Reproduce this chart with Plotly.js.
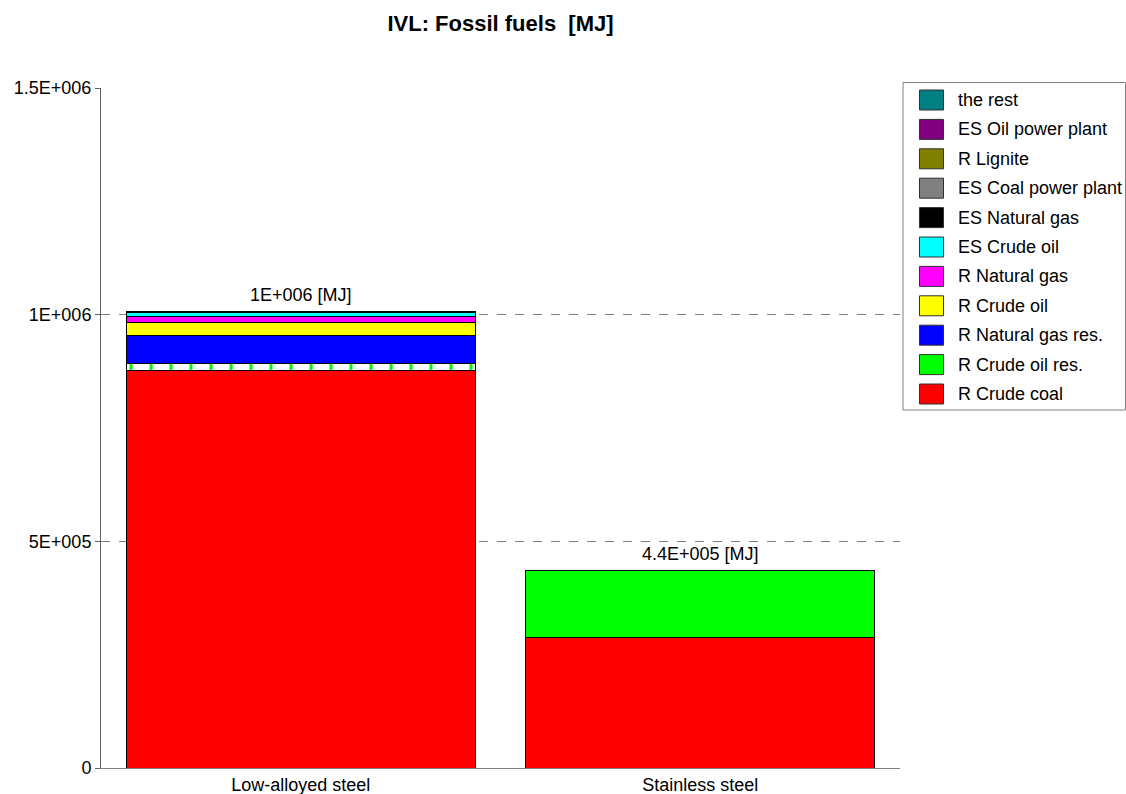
<!DOCTYPE html>
<html>
<head>
<meta charset="utf-8">
<script src="https://cdn.plot.ly/plotly-3.0.1.min.js"></script>
<style>html,body{margin:0;padding:0;background:#fff;}#chart{width:1126px;height:794px;}</style>
</head>
<body>
<div id="chart"></div>
<script>
// Categories
const categories = ["Low-alloyed steel", "Stainless steel"];

// Series (bottom to top of stack)
const seriesNames = [
  "R Crude coal", "R Crude oil res.", "R Natural gas res.", "R Crude oil",
  "R Natural gas", "ES Crude oil", "ES Natural gas", "ES Coal power plant",
  "R Lignite", "ES Oil power plant", "the rest"
];
const seriesColors = [
  "#FF0000", "#00FF00", "#0000FF", "#FFFF00",
  "#FF00FF", "#00FFFF", "#000000", "#808080",
  "#808000", "#800080", "#008080"
];
const rCrudeCoal       = [877000, 288000];
const rCrudeOilRes     = [16000, 148500];
const rNaturalGasRes   = [61000, 0];
const rCrudeOil        = [28000, 0];
const rNaturalGas      = [15000, 0];
const esCrudeOil       = [7000, 0];
const esNaturalGas     = [1500, 0];
const esCoalPowerPlant = [500, 0];
const rLignite         = [300, 0];
const esOilPowerPlant  = [200, 0];
const theRest          = [500, 0];

const seriesValues = [rCrudeCoal, rCrudeOilRes, rNaturalGasRes, rCrudeOil, rNaturalGas,
  esCrudeOil, esNaturalGas, esCoalPowerPlant, rLignite, esOilPowerPlant, theRest];

// Total labels
const totalLabels = ["1E+006 [MJ]", "4.4E+005 [MJ]"];

// Y tick labels
const yTickVals = [0, 500000, 1000000, 1500000];
const yTickText = ["0", "5E+005", "1E+006", "1.5E+006"];

const FONT = "Arial, 'Liberation Sans', sans-serif";
const W = 1126, H = 794;
const M = {l: 101, r: 226, t: 88, b: 26};
const PW = W - M.l - M.r, PH = H - M.t - M.b;
const px2x = p => (p - M.l) / PW;
const py2y = p => (H - M.b - p) / PH;

const traces = seriesNames.map((name, i) => {
  const t = {
    type: "bar",
    name: name,
    x: categories,
    y: seriesValues[i],
    marker: {color: seriesColors[i], line: {color: "#000000", width: 1}},
    width: 0.873,
    showlegend: false,
    hoverinfo: "x+y+name"
  };
  if (name === "R Crude oil res.") {
    t.marker.pattern = {shape: ["|", ""], bgcolor: ["#FFFFFF", "#00FF00"], fgcolor: "#00FF00", size: 20, solidity: 0.15};
  }
  return t;
});

const totals = categories.map((c, j) => seriesValues.reduce((s, arr) => s + arr[j], 0));

const annotations = categories.map((c, j) => ({
  x: c, y: totals[j], xref: "x", yref: "y",
  text: totalLabels[j], showarrow: false,
  yanchor: "bottom", yshift: 4,
  font: {family: FONT, size: 18, color: "#000"}
}));

// Custom legend (reversed order, top = last series)
const shapes = [{
  type: "rect", xref: "paper", yref: "paper",
  x0: px2x(903), x1: px2x(1125.5), y0: py2y(410), y1: py2y(82.5),
  line: {color: "#808080", width: 1}, fillcolor: "#FFFFFF", layer: "below"
}];
const n = seriesNames.length;
for (let k = 0; k < n; k++) {
  const i = n - 1 - k;
  const cy = 100 + 29.4 * k;
  shapes.push({
    type: "rect", xref: "paper", yref: "paper",
    x0: px2x(919.5), x1: px2x(943.5), y0: py2y(cy + 10), y1: py2y(cy - 10),
    line: {color: "#303030", width: 1}, fillcolor: seriesColors[i]
  });
  annotations.push({
    xref: "paper", yref: "paper", x: px2x(956), y: py2y(cy),
    xanchor: "left", yanchor: "middle", showarrow: false,
    text: seriesNames[i], font: {family: FONT, size: 18, color: "#000"}
  });
}

const layout = {
  width: W, height: H,
  margin: {l: M.l, r: M.r, t: M.t, b: M.b, pad: 0},
  paper_bgcolor: "#FFFFFF", plot_bgcolor: "rgba(0,0,0,0)",
  barmode: "stack",
  title: {
    text: "<b>IVL: Fossil fuels  [MJ]</b>",
    font: {family: FONT, size: 22, color: "#000"},
    x: 0.5, xref: "paper", y: 1 - 23 / H, yref: "container", yanchor: "middle"
  },
  showlegend: false,
  xaxis: {
    type: "category",
    showline: true, linecolor: "#808080", linewidth: 1,
    ticks: "", showgrid: false,
    tickfont: {family: FONT, size: 18, color: "#000"},
    zeroline: false
  },
  yaxis: {
    range: [0, 1500000],
    tickvals: yTickVals, ticktext: yTickText,
    showline: true, linecolor: "#606060", linewidth: 1,
    ticks: "outside", ticklen: 5, tickcolor: "#606060",
    showgrid: true, gridcolor: "#808080", griddash: "dash", gridwidth: 1,
    zeroline: false,
    tickfont: {family: FONT, size: 18, color: "#000"}
  },
  shapes: shapes,
  annotations: annotations
};

Plotly.newPlot("chart", traces, layout, {displayModeBar: false, staticPlot: true});
</script>
</body>
</html>
